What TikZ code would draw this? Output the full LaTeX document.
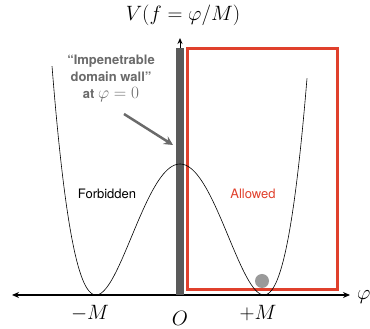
\documentclass[tikz,border=0pt]{standalone}
\usepackage{amsmath}
\usepackage{fontspec}
\setsansfont{TeX Gyre Heros}
\usetikzlibrary{arrows.meta}

\definecolor{wallgray}{HTML}{5A5A5A}
\definecolor{notegray}{HTML}{6A6A6A}
\definecolor{ballgray}{HTML}{9A9A9A}
\definecolor{allowred}{HTML}{E0402C}

\tikzset{
  axis/.style={line width=1.4pt, -{Stealth[length=7pt,width=6pt]}},
  mathlabel/.style={font=\fontsize{20}{22}\selectfont},
  sidelabel/.style={font=\sffamily\fontsize{13}{15}\selectfont},
}

\begin{document}
\begin{tikzpicture}[x=1pt,y=1pt]
  \useasboundingbox (0,0) rectangle (370,329);
  \coordinate (o) at (180,34);
  \coordinate (l) at (12,34);
  \coordinate (r) at (350,34);
  \coordinate (t) at (180,291);
  \coordinate (w) at (173,184);
  \draw[axis] (o) -- (l);
  \draw[axis] (o) -- (r);
  \draw[line width=1pt, -{Stealth[length=6pt,width=5pt]}] (o) -- (t);
  \fill[wallgray] (176,34) rectangle (184,281);
  \draw[allowred, line width=3pt] (187,39) rectangle (337,280);
  \draw[line width=0.6pt] plot[domain=-128:127, samples=120, smooth]
    ({180+\x}, {34+131*((\x/84)^2-1)^2});
  \fill[ballgray] (262,48) circle (7);
  \node[mathlabel] (title) at (183,314) {$V(f=\varphi/M)$};
  \node[mathlabel, anchor=west, inner sep=0pt] (phi) at (357,32) {$\varphi$};
  \node[mathlabel] (mm) at (90,16) {$-M$};
  \node[mathlabel] (zero) at (180,11) {$O$};
  \node[mathlabel] (pm) at (258,16) {$+M$};
  \node[text=notegray, align=center, font=\sffamily\bfseries\fontsize{13}{17}\selectfont]
    (note) at (111,251) {``Impenetrable\\domain wall''\\at {\fontsize{16}{17}\selectfont$\varphi=0$}};
  \draw[notegray, line width=2.5pt, -{Stealth[length=9pt,width=9pt]}] (124,215) -- (w);
  \node[sidelabel] (forb) at (107,135) {Forbidden};
  \node[sidelabel, text=allowred] (allow) at (253,135) {Allowed};
\end{tikzpicture}
\end{document}
